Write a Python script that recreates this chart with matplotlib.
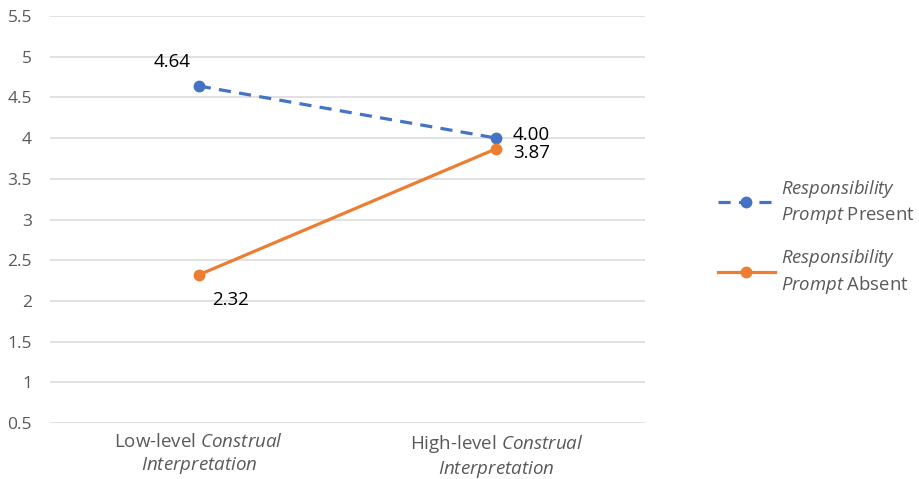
import numpy as np
import matplotlib.pyplot as plt

plt.rcParams['font.family'] = ['Open Sans', 'DejaVu Sans']
plt.rcParams['mathtext.fontset'] = 'custom'
plt.rcParams['mathtext.rm'] = 'Open Sans'
plt.rcParams['mathtext.it'] = 'Open Sans:italic'

categories = ['Low-level $\\it{Construal}$\n$\\it{Interpretation}$',
              'High-level $\\it{Construal}$\n$\\it{Interpretation}$']
present = [4.64, 4.00]
absent = [2.32, 3.87]
present_label = '$\\it{Responsibility}$\n$\\it{Prompt}$ Present'
absent_label = '$\\it{Responsibility}$\n$\\it{Prompt}$ Absent'
yticks = [0.5, 1, 1.5, 2, 2.5, 3, 3.5, 4, 4.5, 5, 5.5]
ytick_labels = ['0.5', '1', '1.5', '2', '2.5', '3', '3.5', '4', '4.5', '5', '5.5']

blue = '#4472C4'
orange = '#ED7D31'
gray = '#595959'

fig = plt.figure(figsize=(9.19, 4.79), dpi=100)
ax = fig.add_axes([0.0544, 0.1169, 0.6476, 0.8497])

x = np.arange(len(categories))
ax.plot(x, present, color=blue, lw=2.3, ls=(0, (3.8, 2.6)), marker='o',
        markersize=7.5, label=present_label, zorder=3)
ax.plot(x, absent, color=orange, lw=2.3, marker='o',
        markersize=7.5, label=absent_label, zorder=3)

# data labels
offsets_p = [(-19.5, 17, 'center'), (12, 2.5, 'left')]
offsets_a = [(23, -18, 'center'), (12, -3, 'left')]
for i, v in enumerate(present):
    dx, dy, ha = offsets_p[i]
    ax.annotate(f'{v:.2f}', (x[i], v), xytext=(dx, dy), textcoords='offset points',
                ha=ha, va='center', fontsize=13.5, color='black')
for i, v in enumerate(absent):
    dx, dy, ha = offsets_a[i]
    ax.annotate(f'{v:.2f}', (x[i], v), xytext=(dx, dy), textcoords='offset points',
                ha=ha, va='center', fontsize=13.5, color='black')

ax.set_xlim(-0.5, 1.5)
ax.set_ylim(0.5, 5.5)
ax.set_yticks(yticks)
ax.set_yticklabels(ytick_labels)
ax.set_xticks(x)
ax.set_xticklabels(categories, linespacing=1.3)
ax.tick_params(axis='y', length=0, pad=13, labelsize=12.5, labelcolor=gray)
ax.tick_params(axis='x', length=0, pad=7, labelsize=13.5, labelcolor=gray)
ax.grid(axis='y', color='#D9D9D9', lw=1.1)
ax.set_axisbelow(True)
for s in ax.spines.values():
    s.set_visible(False)

leg = ax.legend(loc='center left', bbox_to_anchor=(0.765, 0.505),
                bbox_transform=fig.transFigure, frameon=False, fontsize=13.3,
                handlelength=3.1, handletextpad=0.33, labelspacing=1.15,
                borderaxespad=0.4, labelcolor=gray)
for t in leg.get_texts():
    t.set_linespacing(1.32)

fig.savefig('out.png', dpi=100)
